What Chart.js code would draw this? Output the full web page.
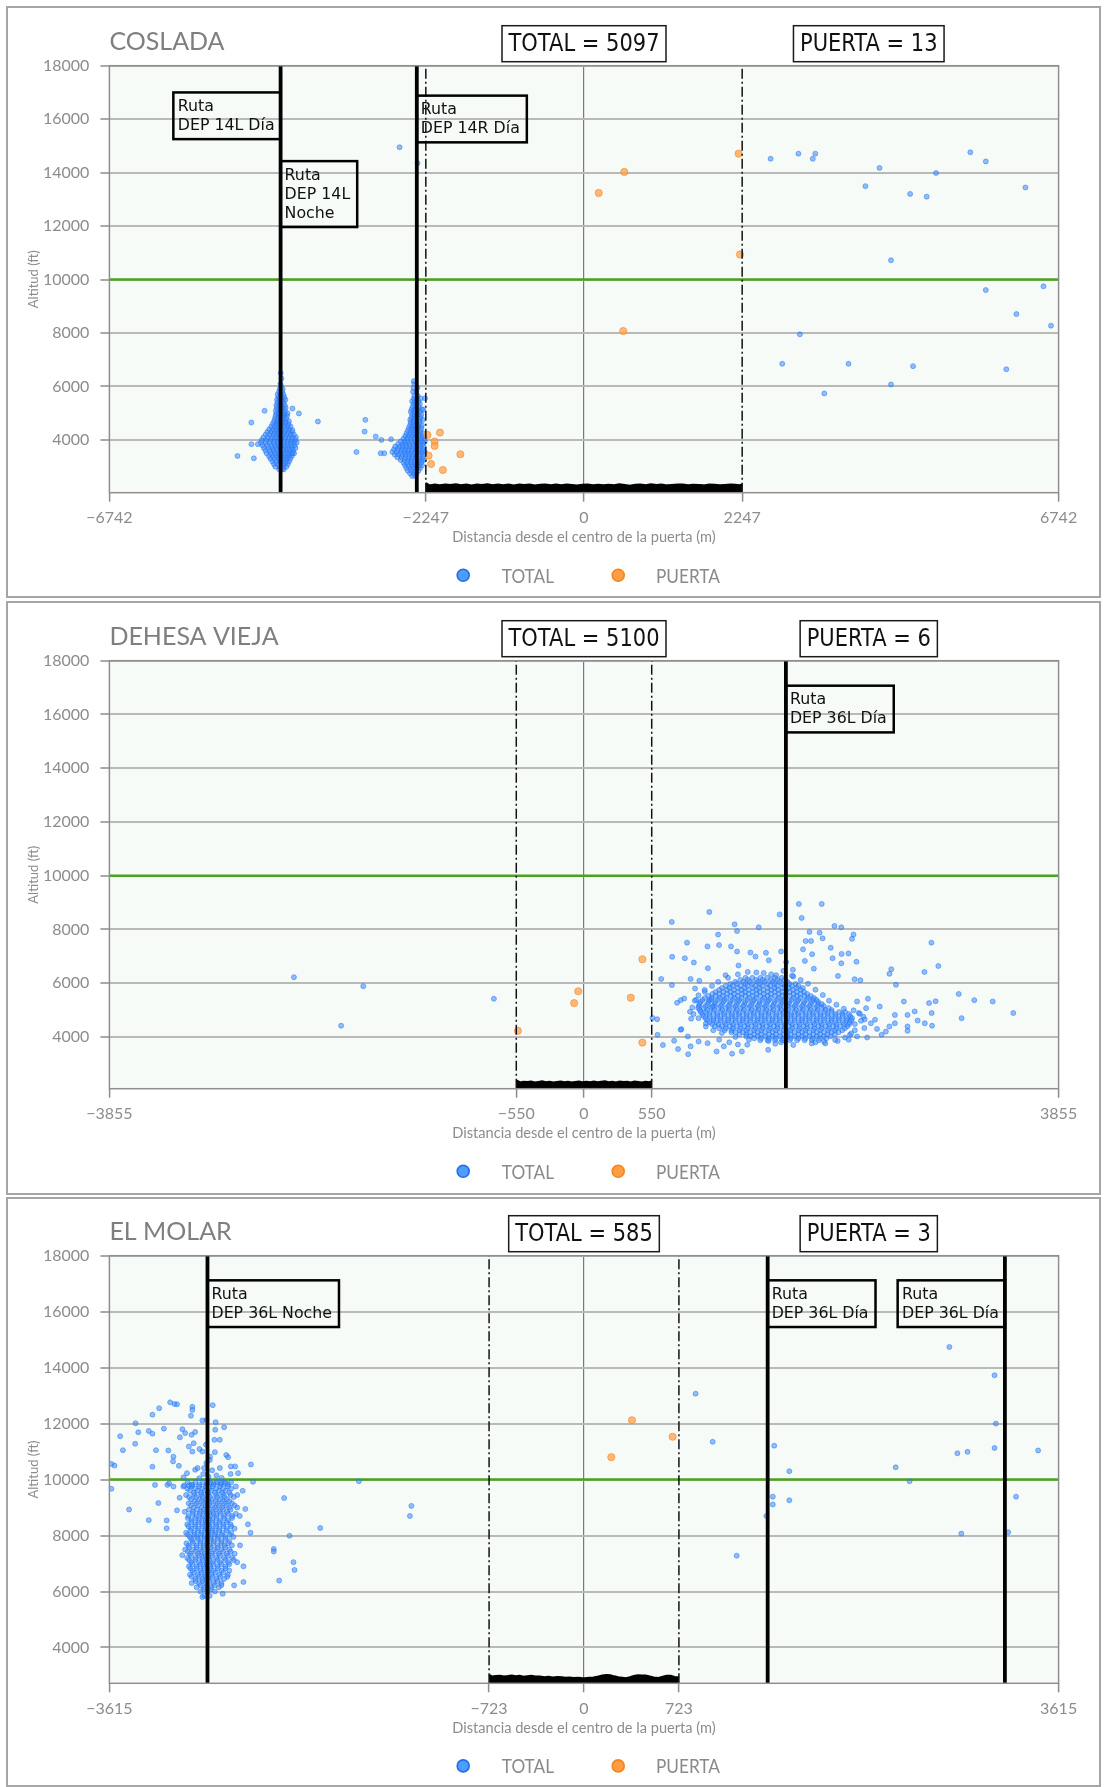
<!DOCTYPE html>
<html><head><meta charset="utf-8">
<script src="https://cdn.jsdelivr.net/npm/chart.js@4.4.1/dist/chart.umd.min.js"></script>
<style>
html,body{margin:0;padding:0;background:#fff;}
body{width:1105px;height:1787px;position:relative;overflow:hidden;}
.panel{position:absolute;left:6px;width:1095px;border:2px solid #a6a6a6;box-sizing:border-box;}
.cv{position:absolute;left:0;}
</style></head><body>
<div class="panel" style="top:6px;height:592px"></div>
<div class="panel" style="top:601px;height:594px"></div>
<div class="panel" style="top:1197px;height:590px"></div>
<canvas id="c1" class="cv" style="top:0px" width="1105" height="599"></canvas>
<canvas id="c2" class="cv" style="top:599px" width="1105" height="596"></canvas>
<canvas id="c3" class="cv" style="top:1195px" width="1105" height="592"></canvas>
<script>
// ---------------- shared ----------------
const yTicks = [4000, 6000, 8000, 10000, 12000, 14000, 16000, 18000];
const yMax = 18000;
const altitudeLimit = 10000;
const legendLabels = ['TOTAL', 'PUERTA'];
const xAxisTitle = 'Distancia desde el centro de la puerta (m)';
const yAxisTitle = 'Altitud (ft)';

// ---------------- COSLADA ----------------
const cosladaTitle = 'COSLADA';
const cosladaTotalCount = 5097;
const cosladaPuertaCount = 13;
const cosladaXTicks = [-6742, -2247, 0, 2247, 6742];
const cosladaYMin = 2025;
const cosladaGate = [-2247, 2247];
const cosladaRoutes = [-4310, -2375];
const cosladaRouteLabels = [
  {x: -4310, top: 17000, side: 'left', lines: ['Ruta', 'DEP 14L Día']},
  {x: -4310, top: 14430, side: 'right', lines: ['Ruta', 'DEP 14L', 'Noche']},
  {x: -2375, top: 16880, side: 'right', lines: ['Ruta', 'DEP 14R Día']}
];
// rows: [altitude, distances...]
const cosladaTotalRows = [
  [2900, -4330, -4290, -4265],
  [3000, -4385, -4325, -4272, -4228],
  [3100, -4405, -4352, -4298, -4251, -4207],
  [3200, -4428, -4371, -4318, -4279, -4236, -4188],
  [3300, -4455, -4398, -4342, -4301, -4258, -4215, -4172],
  [3400, -4475, -4418, -4368, -4322, -4276, -4233, -4189, -4150],
  [3500, -4508, -4445, -4392, -4338, -4297, -4248, -4203, -4158, -4118],
  [3600, -4525, -4462, -4408, -4361, -4312, -4268, -4221, -4177, -4131],
  [3700, -4548, -4483, -4425, -4372, -4318, -4279, -4232, -4188, -4142, -4098],
  [3800, -4566, -4502, -4441, -4388, -4342, -4297, -4251, -4203, -4158, -4112],
  [3900, -4590, -4524, -4462, -4405, -4348, -4306, -4262, -4211, -4168, -4121, -4082],
  [4000, -4578, -4512, -4451, -4398, -4352, -4302, -4253, -4198, -4151, -4102],
  [4100, -4553, -4492, -4433, -4381, -4328, -4288, -4242, -4191, -4139, -4093],
  [4200, -4522, -4463, -4408, -4359, -4318, -4271, -4222, -4168, -4121],
  [4300, -4498, -4442, -4391, -4343, -4298, -4252, -4201, -4152],
  [4400, -4472, -4418, -4372, -4328, -4282, -4231, -4183],
  [4500, -4441, -4393, -4348, -4302, -4258, -4212, -4168],
  [4600, -4422, -4368, -4331, -4288, -4242, -4198],
  [4700, -4402, -4358, -4318, -4281, -4238, -4192],
  [4800, -4391, -4348, -4308, -4268, -4231],
  [4900, -4382, -4338, -4302, -4262, -4219],
  [5000, -4372, -4331, -4288, -4248, -4212],
  [5100, -4378, -4332, -4291, -4252],
  [5200, -4362, -4318, -4282, -4238],
  [5300, -4371, -4328, -4292, -4251],
  [5400, -4352, -4311, -4268],
  [5500, -4361, -4322, -4281, -4242],
  [5600, -4341, -4302, -4258],
  [5700, -4352, -4309, -4271],
  [5800, -4331, -4288],
  [5900, -4322, -4281],
  [6000, -4302], [6100, -4312], [6300, -4298], [6500, -4308],
  [2650, -2442, -2398],
  [2750, -2472, -2418, -2379],
  [2850, -2503, -2451, -2402, -2352],
  [2950, -2524, -2468, -2421, -2372, -2328],
  [3050, -2542, -2488, -2441, -2393, -2342, -2301],
  [3150, -2563, -2512, -2459, -2408, -2361, -2312],
  [3250, -2604, -2548, -2497, -2452, -2401, -2349, -2302, -2271],
  [3350, -2652, -2592, -2538, -2489, -2442, -2391, -2338, -2291],
  [3450, -2688, -2638, -2583, -2531, -2478, -2432, -2381, -2329, -2282],
  [3550, -2722, -2662, -2603, -2548, -2502, -2449, -2398, -2352, -2301, -2262],
  [3650, -2698, -2641, -2588, -2539, -2491, -2442, -2388, -2341, -2292],
  [3750, -2681, -2622, -2571, -2518, -2468, -2421, -2372, -2322, -2279],
  [3850, -2642, -2579, -2532, -2481, -2428, -2382, -2331, -2288],
  [3950, -2601, -2548, -2502, -2451, -2398, -2352, -2302, -2262],
  [4050, -2562, -2511, -2458, -2412, -2361, -2311, -2268],
  [4150, -2538, -2491, -2441, -2388, -2342, -2292],
  [4250, -2521, -2468, -2422, -2379, -2331, -2288],
  [4350, -2502, -2452, -2408, -2368, -2322],
  [4450, -2488, -2441, -2401, -2358, -2311],
  [4550, -2471, -2428, -2388, -2349, -2302],
  [4650, -2462, -2421, -2378, -2338],
  [4750, -2468, -2422, -2381, -2332, -2291],
  [4850, -2451, -2408, -2368, -2322],
  [4950, -2438, -2402, -2358, -2311],
  [5050, -2461, -2412, -2371, -2328],
  [5150, -2448, -2401, -2362, -2302],
  [5250, -2432, -2388, -2348],
  [5350, -2421, -2379, -2332],
  [5450, -2441, -2398, -2352],
  [5550, -2418, -2372, -2321],
  [5650, -2408, -2362],
  [5800, -2428, -2381],
  [5950, -2422, -2368],
  [6100, -2412], [6200, -2418]
];
const cosladaTotalSparse = [
  [-4923, 3400], [-4690, 3310], [-4725, 4650], [-4725, 3840], [-4633, 3840], [-4537, 5090],
  [-4141, 5175], [-4050, 4990], [-3780, 4690], [-4141, 4360], [-4141, 3500],
  [-3233, 3550], [-3117, 4310], [-3106, 4750], [-2959, 4125], [-2878, 4000], [-2888, 3500],
  [-2837, 3500], [-2740, 4025], [-2259, 5560], [-2284, 5125],
  [-2620, 14950], [-2365, 14350],
  [2651, 14519], [3046, 14709], [3250, 14519], [3286, 14709], [4198, 14177], [3998, 13494],
  [4633, 13202], [4868, 13101], [5001, 13987], [5488, 14760], [5708, 14418], [6271, 13443],
  [4361, 10721], [5708, 9607], [6527, 9746], [6143, 8707], [6634, 8273], [3066, 7950],
  [2816, 6847], [3758, 6847], [4674, 6760], [3414, 5740], [4361, 6074], [5999, 6645]
];
const cosladaPuerta = [
  [-2223, 4188], [-2046, 4275], [-2122, 3938], [-2122, 3775], [-2208, 3413], [-2172, 3100],
  [-2005, 2875], [-1756, 3463], [2196, 14709], [573, 14025], [209, 13240], [2216, 10937], [557, 8075]
];
const cosladaGateProfile = [
  [-2247, 2380], [-2200, 2290], [-2120, 2318], [-2050, 2296], [-1970, 2322], [-1900, 2301],
  [-1820, 2330], [-1750, 2292], [-1670, 2318], [-1600, 2288], [-1520, 2320], [-1450, 2302],
  [-1370, 2328], [-1300, 2296], [-1220, 2322], [-1150, 2298], [-1070, 2326], [-1000, 2290],
  [-920, 2318], [-850, 2304], [-770, 2324], [-700, 2282], [-620, 2316], [-550, 2322],
  [-470, 2296], [-400, 2318], [-320, 2292], [-250, 2320], [-170, 2304], [-100, 2286],
  [-20, 2316], [50, 2326], [130, 2298], [200, 2316], [280, 2292], [350, 2312],
  [430, 2296], [500, 2328], [580, 2300], [650, 2276], [730, 2312], [800, 2320],
  [880, 2296], [950, 2330], [1030, 2302], [1100, 2318], [1180, 2290], [1250, 2306],
  [1330, 2326], [1400, 2318], [1480, 2296], [1550, 2314], [1630, 2300], [1700, 2290],
  [1780, 2322], [1850, 2316], [1930, 2294], [2000, 2306], [2080, 2322], [2150, 2312],
  [2210, 2296], [2247, 2320]
];

// ---------------- DEHESA VIEJA ----------------
const dehesaTitle = 'DEHESA VIEJA';
const dehesaTotalCount = 5100;
const dehesaPuertaCount = 6;
const dehesaXTicks = [-3855, -550, 0, 550, 3855];
const dehesaYMin = 2075;
const dehesaGate = [-550, 550];
const dehesaRoutes = [1640];
const dehesaRouteLabels = [
  {x: 1640, top: 17070, side: 'right', lines: ['Ruta', 'DEP 36L Día']}
];
const dehesaTotalRows = [
  [6200, 1312, 1368, 1433, 1488, 1552, 1607],
  [6125, 1270, 1331, 1398, 1452, 1519, 1573, 1628],
  [6050, 1228, 1293, 1347, 1412, 1468, 1533, 1588, 1652],
  [5975, 1188, 1241, 1312, 1366, 1429, 1489, 1548, 1611, 1668, 1718],
  [5900, 1152, 1208, 1273, 1328, 1391, 1447, 1512, 1568, 1631, 1688, 1742],
  [5825, 1121, 1182, 1248, 1303, 1371, 1422, 1491, 1548, 1609, 1662, 1728, 1778],
  [5750, 1098, 1163, 1218, 1282, 1338, 1403, 1458, 1522, 1577, 1643, 1698, 1762],
  [5675, 1068, 1131, 1192, 1251, 1309, 1372, 1428, 1492, 1551, 1609, 1671, 1729, 1788],
  [5600, 1042, 1098, 1162, 1219, 1283, 1338, 1402, 1461, 1518, 1583, 1638, 1702, 1758, 1812],
  [5525, 1009, 1071, 1128, 1192, 1249, 1311, 1371, 1431, 1489, 1552, 1609, 1671, 1729, 1791, 1842],
  [5450, 982, 1038, 1103, 1158, 1222, 1279, 1342, 1398, 1463, 1518, 1582, 1637, 1703, 1758, 1822, 1868],
  [5375, 962, 1021, 1088, 1142, 1209, 1262, 1328, 1382, 1449, 1502, 1569, 1622, 1688, 1742, 1808, 1862, 1888],
  [5300, 948, 1012, 1068, 1132, 1188, 1252, 1308, 1372, 1428, 1492, 1548, 1612, 1668, 1732, 1788, 1852, 1902],
  [5225, 938, 1001, 1062, 1121, 1182, 1241, 1302, 1361, 1422, 1481, 1542, 1601, 1662, 1721, 1782, 1841, 1902, 1931],
  [5150, 932, 988, 1052, 1108, 1172, 1228, 1292, 1348, 1412, 1468, 1532, 1588, 1652, 1708, 1772, 1828, 1892, 1948],
  [5075, 928, 972, 1031, 1092, 1151, 1212, 1271, 1332, 1391, 1452, 1511, 1572, 1631, 1692, 1751, 1812, 1871, 1931, 1988],
  [5000, 941, 1002, 1058, 1122, 1178, 1242, 1298, 1362, 1418, 1482, 1538, 1602, 1658, 1722, 1778, 1842, 1898, 1962, 2012],
  [4925, 948, 991, 1051, 1112, 1171, 1232, 1291, 1352, 1411, 1472, 1531, 1592, 1651, 1712, 1771, 1832, 1891, 1952, 2011, 2072, 2121],
  [4850, 962, 1018, 1082, 1138, 1202, 1258, 1322, 1378, 1442, 1498, 1562, 1618, 1682, 1738, 1802, 1858, 1922, 1978, 2042, 2098, 2152],
  [4775, 972, 1022, 1081, 1142, 1201, 1262, 1321, 1382, 1441, 1502, 1561, 1622, 1681, 1742, 1801, 1862, 1921, 1982, 2041, 2102, 2162],
  [4700, 988, 1052, 1108, 1172, 1228, 1292, 1348, 1412, 1468, 1532, 1588, 1652, 1708, 1772, 1828, 1892, 1948, 2012, 2068, 2132, 2178],
  [4625, 1001, 1051, 1112, 1171, 1232, 1291, 1352, 1411, 1472, 1531, 1592, 1651, 1712, 1771, 1832, 1891, 1952, 2011, 2072, 2131, 2171],
  [4550, 1022, 1078, 1142, 1198, 1262, 1318, 1382, 1438, 1502, 1558, 1622, 1678, 1742, 1798, 1862, 1918, 1982, 2038, 2102, 2158],
  [4475, 1041, 1091, 1152, 1211, 1272, 1331, 1392, 1451, 1512, 1571, 1632, 1691, 1752, 1811, 1872, 1931, 1992, 2051, 2112, 2152],
  [4400, 1062, 1118, 1182, 1238, 1302, 1358, 1422, 1478, 1542, 1598, 1662, 1718, 1782, 1838, 1902, 1958, 2022, 2078, 2138],
  [4325, 1098, 1152, 1211, 1272, 1331, 1392, 1451, 1512, 1571, 1632, 1691, 1752, 1811, 1872, 1931, 1992, 2051, 2118],
  [4250, 1142, 1198, 1262, 1318, 1382, 1438, 1502, 1558, 1622, 1678, 1742, 1798, 1862, 1918, 1982, 2038, 2098],
  [4175, 1198, 1231, 1292, 1351, 1412, 1471, 1532, 1591, 1652, 1711, 1772, 1831, 1892, 1951, 2012, 2068],
  [4100, 1262, 1318, 1382, 1438, 1502, 1558, 1622, 1678, 1742, 1798, 1862, 1918, 1978, 2038],
  [4025, 1318, 1352, 1411, 1472, 1531, 1592, 1651, 1712, 1771, 1832, 1891, 1948, 2002],
  [3950, 1382, 1438, 1502, 1558, 1622, 1678, 1742, 1798, 1858, 1918, 1968],
  [3880, 1432, 1491, 1552, 1611, 1672, 1731, 1792, 1851, 1908]
];
const dehesaTotalSparse = [
  [-2356, 6223], [-1793, 5890], [-1973, 4420], [-732, 5420],
  [1018, 8650], [713, 8280], [1223, 8190], [1243, 7940], [1419, 8080], [1589, 8560], [1768, 8430],
  [1745, 8950], [1931, 8950], [2034, 8130], [2090, 8080], [2189, 7810], [2177, 7650], [1832, 7910],
  [1914, 7880], [1938, 7670], [1800, 7570], [1844, 7570], [837, 7510], [1089, 7810], [1003, 7370],
  [1097, 7420], [1194, 7370], [1243, 7180], [716, 6980], [819, 6930], [892, 6770], [1006, 6560],
  [1255, 6660], [1352, 7140], [1393, 6990], [1478, 7130], [1501, 6850], [1601, 7180], [1642, 6790],
  [1697, 6500], [1779, 7260], [1853, 7080], [1794, 6830], [1867, 6540], [2004, 7320], [2019, 6930],
  [2092, 7090], [2090, 6740], [2213, 6800], [2148, 7110], [2063, 6270], [2198, 6150], [2245, 6110],
  [2822, 7510], [2878, 6640], [2496, 6520], [2481, 6350], [2534, 5940], [2765, 6420], [3044, 5600],
  [3170, 5370], [3320, 5320], [3487, 4890], [3067, 4700], [2856, 5330], [2803, 5260], [2824, 4890],
  [2827, 4420], [2710, 4610], [2768, 4510], [2686, 4950], [2628, 4820], [2598, 5320], [2628, 4390],
  [2628, 4230], [2525, 4510], [2525, 4820], [2481, 4390], [2452, 4200], [2417, 4080], [2402, 5130],
  [2364, 4640], [2306, 5420], [2291, 5070], [2218, 5320], [2233, 4890], [2330, 4510], [2277, 4330],
  [2218, 4020], [2160, 4080], [627, 6160], [714, 5930], [556, 4710], [594, 4660], [597, 4080],
  [641, 3700], [764, 3550], [846, 3360], [866, 3650], [931, 3830], [732, 3860], [791, 4290],
  [785, 5370], [814, 5430], [861, 4940], [870, 4680], [911, 5380], [902, 5800], [937, 6090],
  [981, 5680], [866, 6160], [843, 4020], [785, 4270], [990, 4390], [1004, 3770], [1077, 3460],
  [1136, 3650], [1203, 3380], [1282, 3460], [1326, 3710], [1496, 3520], [1554, 3750], [1098, 3900],
  [756, 5270], [1034, 5380], [1042, 5130], [2300, 3980], [2380, 4300], [2150, 3900], [1700, 3700],
  [1850, 3760], [1950, 3820], [2060, 3850], [1180, 3800], [1250, 3720], [1400, 6400],
  [1520, 6330], [1700, 6250], [1150, 6300], [2250, 4600], [2200, 4480], [2270, 4750],
  [1250, 6330], [1330, 6420], [1460, 6380], [1560, 6300], [1620, 6460], [1690, 6280], [1760, 6120],
  [1820, 5980], [1880, 5760], [1940, 5560], [1990, 5350], [2050, 5200], [2110, 5050], [2190, 4990],
  [2240, 4860], [2280, 4650], [2200, 4250], [2170, 4130], [2120, 3980], [2040, 3890], [1960, 3760],
  [1880, 3800], [1600, 3800], [1500, 3850], [1340, 3900], [1230, 4000], [1120, 4150], [1050, 4250],
  [990, 4500], [930, 4700], [890, 4850], [880, 5100], [900, 5350], [930, 5550], [980, 5750],
  [1040, 5900], [1090, 6050], [1170, 6200]
];
const dehesaPuerta = [
  [-537, 4230], [474, 6890], [-47, 5700], [-80, 5260], [380, 5460], [474, 3790]
];
const dehesaGateProfile = [
  [-550, 2380], [-520, 2300], [-490, 2326], [-460, 2312], [-430, 2336], [-400, 2298],
  [-370, 2318], [-340, 2340], [-310, 2306], [-280, 2322], [-250, 2298], [-220, 2316],
  [-190, 2336], [-160, 2304], [-130, 2322], [-100, 2296], [-70, 2318], [-40, 2334],
  [-10, 2302], [20, 2326], [50, 2310], [80, 2336], [110, 2308], [140, 2326],
  [170, 2342], [200, 2304], [230, 2322], [260, 2300], [290, 2334], [320, 2312],
  [350, 2326], [380, 2300], [410, 2330], [440, 2318], [470, 2296], [500, 2324],
  [530, 2306], [550, 2340]
];

// ---------------- EL MOLAR ----------------
const molarTitle = 'EL MOLAR';
const molarTotalCount = 585;
const molarPuertaCount = 3;
const molarXTicks = [-3615, -723, 0, 723, 3615];
const molarYMin = 2720;
const molarGate = [-723, 723];
const molarRoutes = [-2868, 1399, 3206];
const molarRouteLabels = [
  {x: -2868, top: 17120, side: 'right', lines: ['Ruta', 'DEP 36L Noche']},
  {x: 1399, top: 17120, side: 'right', lines: ['Ruta', 'DEP 36L Día']},
  {x: 3206, top: 17120, side: 'left', lines: ['Ruta', 'DEP 36L Día']}
];
const molarTotalRows = [
  [9900, -3020, -2960, -2902, -2851, -2798, -2741, -2688],
  [9825, -2990, -2931, -2876, -2822, -2768, -2714],
  [9750, -3052, -2988, -2931, -2879, -2828, -2772, -2712, -2652],
  [9675, -3021, -2962, -2908, -2855, -2801, -2748, -2688],
  [9600, -3001, -2942, -2889, -2838, -2781, -2729],
  [9525, -2972, -2918, -2866, -2812, -2758, -2702],
  [9450, -3031, -2968, -2912, -2861, -2802, -2748, -2691, -2641],
  [9375, -3008, -2952, -2902, -2848, -2791, -2738, -2668],
  [9300, -2992, -2931, -2878, -2829, -2772, -2719],
  [9225, -2968, -2912, -2861, -2808, -2752, -2701],
  [9150, -3011, -2952, -2898, -2851, -2792, -2738, -2682],
  [9075, -2992, -2938, -2882, -2831, -2778, -2722, -2661],
  [9000, -2972, -2912, -2868, -2811, -2758, -2702, -2641],
  [8925, -3009, -2949, -2898, -2852, -2801, -2748, -2692],
  [8850, -3041, -2978, -2922, -2879, -2831, -2778, -2721],
  [8775, -2981, -2928, -2872, -2822, -2768, -2711, -2652],
  [8700, -3012, -2951, -2902, -2848, -2801, -2742, -2681, -2622],
  [8625, -3018, -2962, -2908, -2856, -2801, -2742, -2681],
  [8550, -2988, -2931, -2882, -2829, -2771, -2712],
  [8475, -2992, -2938, -2882, -2832, -2778, -2721],
  [8400, -3022, -2961, -2908, -2861, -2802, -2748, -2692],
  [8325, -3012, -2962, -2908, -2852, -2802, -2748, -2688],
  [8250, -2991, -2938, -2882, -2831, -2778, -2721, -2662],
  [8175, -2998, -2941, -2888, -2832, -2781, -2721],
  [8100, -3031, -2968, -2912, -2858, -2809, -2752, -2688],
  [8025, -3018, -2969, -2918, -2862, -2812, -2759, -2698],
  [7950, -3002, -2948, -2891, -2842, -2788, -2732, -2671],
  [7875, -2992, -2941, -2892, -2841, -2789, -2731],
  [7800, -2981, -2922, -2868, -2819, -2762, -2702],
  [7725, -3028, -2978, -2921, -2872, -2822, -2762, -2711],
  [7650, -3012, -2951, -2898, -2851, -2791, -2738, -2682],
  [7575, -3008, -2951, -2898, -2842, -2789, -2731],
  [7500, -3038, -2979, -2922, -2869, -2818, -2762, -2701],
  [7425, -3018, -2961, -2911, -2858, -2802, -2748, -2691],
  [7350, -3001, -2941, -2891, -2838, -2781, -2722, -2661],
  [7275, -2992, -2931, -2882, -2831, -2772, -2712],
  [7200, -3022, -2958, -2908, -2861, -2802, -2741, -2679],
  [7125, -3008, -2961, -2902, -2851, -2792, -2731, -2668],
  [7050, -2991, -2932, -2878, -2829, -2771, -2709, -2642],
  [6975, -2982, -2922, -2872, -2822, -2762, -2702],
  [6900, -3009, -2951, -2899, -2848, -2792, -2731],
  [6825, -2998, -2948, -2892, -2842, -2788, -2731],
  [6750, -2982, -2921, -2868, -2821, -2761, -2702],
  [6675, -2969, -2912, -2861, -2808, -2748],
  [6600, -3001, -2942, -2889, -2838, -2779, -2712],
  [6525, -2988, -2932, -2882, -2828, -2771, -2718],
  [6450, -2961, -2908, -2861, -2801, -2742],
  [6375, -2958, -2902, -2851, -2792],
  [6300, -2988, -2931, -2879, -2822, -2762],
  [6225, -2921, -2868, -2812, -2762],
  [6150, -2951, -2892, -2841, -2781],
  [6075, -2898, -2842],
  [6000, -2921, -2868, -2812],
  [5850, -2892, -2851]
];
const molarTotalSparse = [
  [-3152, 12760], [-3119, 12700], [-3100, 12690], [-2983, 12600], [-2983, 12490], [-3236, 12550],
  [-3287, 12320], [-3416, 12010], [-2828, 12660], [-2994, 12280], [-2907, 12110], [-2876, 12130],
  [-2806, 12050], [-2741, 11870], [-2809, 11780], [-3200, 11820], [-3315, 11740], [-3395, 11690],
  [-3287, 11640], [-3533, 11550], [-3419, 11280], [-3512, 11050], [-3260, 11050], [-3166, 11040],
  [-3078, 11510], [-3059, 11800], [-3038, 11660], [-2989, 11600], [-2962, 11700], [-2973, 11300],
  [-3010, 11180], [-2983, 11000], [-2929, 11090], [-2907, 11000], [-2815, 11420], [-2774, 11420],
  [-2812, 10980], [-2848, 10820], [-2725, 10880], [-2711, 10800], [-3127, 10820], [-3130, 10650],
  [-3086, 10490], [-3287, 10460], [-3024, 10230], [-2962, 10350], [-2943, 10410], [-2894, 10410],
  [-2876, 10590], [-2832, 10330], [-2774, 10410], [-2690, 10470], [-2657, 10470], [-2635, 10230],
  [-2537, 10540], [-2521, 9920], [-2692, 10200], [-3160, 9870], [-3173, 9810], [-3268, 9810],
  [-3045, 9790], [-3010, 9790], [-2983, 9810], [-3127, 9750], [-2840, 9870], [-2794, 9900],
  [-2761, 9870], [-2731, 9870], [-3576, 10500], [-3600, 10560], [-2860, 10100], [-2900, 10200],
  [-2930, 10050], [-2800, 10150], [-2760, 10060], [-3050, 10080], [-2850, 10700], [-2880, 11250],
  [-2284, 9340], [-2243, 7990], [-2363, 7520], [-2363, 7430], [-2213, 7050], [-2205, 6770],
  [-2322, 6390], [-2009, 8270], [-1326, 8700], [-1315, 9060], [-1715, 9940], [-3465, 8930],
  [-3315, 8550], [-3600, 9670], [-3242, 9160], [-3179, 8540], [-3179, 8260], [-2594, 6900],
  [-2594, 6340], [-2665, 6220], [-2752, 5920], [-2907, 5800], [-3080, 9350], [-3100, 8900],
  [-2600, 9600], [-2580, 8950], [-2560, 8400], [-2540, 8100], [-2620, 7650], [-3060, 7300],
  [850, 13070], [980, 11350], [1449, 11210], [1564, 10300], [2374, 10440], [2480, 9940],
  [2783, 14740], [3127, 13730], [3137, 12000], [2844, 10940], [2921, 10990], [3127, 11130],
  [3459, 11040], [1438, 9390], [1438, 9110], [1564, 9260], [1389, 8700], [1163, 7280],
  [2874, 8070], [3231, 8120], [3291, 9390]
];
const molarPuerta = [[365, 12120], [675, 11530], [208, 10800]];
const molarGateProfile = [
  [-723, 3010], [-700, 2950], [-670, 2968], [-640, 2982], [-610, 2958], [-580, 2972],
  [-550, 2990], [-520, 2962], [-490, 2976], [-460, 2948], [-430, 2966], [-400, 2980],
  [-370, 2956], [-338, 2950], [-300, 2928], [-270, 2946], [-240, 2918], [-200, 2936],
  [-170, 2924], [-140, 2906], [-110, 2922], [-80, 2904], [-50, 2912], [-20, 2898],
  [5, 2890], [40, 2906], [73, 2920], [110, 2956], [140, 2990], [170, 3010],
  [200, 3002], [230, 2960], [260, 2926], [290, 2910], [320, 2896], [350, 2930],
  [380, 2975], [410, 2998], [440, 2986], [470, 2992], [500, 2958], [530, 2920],
  [568, 2902], [600, 2950], [630, 2985], [660, 2978], [690, 2940], [723, 2930]
];

// ---------------- helpers ----------------
const fmt = v => (v < 0 ? '\u2212' + Math.abs(v) : String(v));
const rowsToPoints = rows => {
  const out = [];
  rows.forEach(r => { for (let i = 1; i < r.length; i++) out.push({x: r[i], y: r[0]}); });
  return out;
};
const pairsToPoints = p => p.map(([x, y]) => ({x, y}));

const TICK_COLOR = '#8c8c8c';
const BLUE_FILL = 'rgba(58,138,255,0.55)';
const BLUE_EDGE = 'rgba(30,112,240,0.6)';
const ORANGE_FILL = 'rgba(255,158,70,0.72)';
const ORANGE_EDGE = 'rgba(248,138,40,0.65)';

function decorPlugin(cfg) {
  return {
    id: 'decor',
    beforeDraw(chart) {
      const {ctx, chartArea: a} = chart;
      ctx.save();
      ctx.fillStyle = 'rgb(246,251,248)';
      ctx.fillRect(a.left, a.top, a.right - a.left, a.bottom - a.top);
      ctx.restore();
    },
    afterDraw(chart) {
      const {ctx, chartArea: a, scales} = chart;
      const w = a.right - a.left;
      const cx = a.left + w / 2;
      ctx.save();
      // frame
      ctx.strokeStyle = '#8f8f8f';
      ctx.lineWidth = 1.5;
      ctx.strokeRect(a.left, a.top, w, a.bottom - a.top);
      // title
      ctx.fillStyle = '#7f7f7f';
      ctx.font = '25px Lato';
      ctx.textAlign = 'left';
      ctx.textBaseline = 'alphabetic';
      ctx.fillText(cfg.title, a.left, a.top - 16);
      // count boxes
      const countBox = (text, centerX) => {
        ctx.font = '24px "DejaVu Sans"';
        const sx = 0.875;
        const tw = ctx.measureText(text).width * sx;
        const bw = tw + 13;
        ctx.strokeStyle = '#1a1a1a';
        ctx.lineWidth = 1.5;
        ctx.strokeRect(centerX - bw / 2, a.top - 40, bw, 36);
        ctx.save();
        ctx.translate(centerX, a.top - 15);
        ctx.scale(sx, 1);
        ctx.fillStyle = '#111';
        ctx.textAlign = 'center';
        ctx.fillText(text, 0, 0);
        ctx.restore();
      };
      countBox('TOTAL = ' + cfg.total, a.left + 0.5 * w);
      countBox('PUERTA = ' + cfg.puerta, a.left + 0.8 * w);
      // route labels
      ctx.font = '15.8px "DejaVu Sans"';
      cfg.labels.forEach(l => {
        const xp = scales.x.getPixelForValue(l.x);
        const yt = scales.y.getPixelForValue(l.top);
        const maxW = Math.max(...l.lines.map(s => ctx.measureText(s).width));
        let textX, boxL, boxR;
        if (l.side === 'right') { boxL = xp; textX = xp + 4; boxR = textX + maxW + 7; }
        else { boxR = xp; textX = xp - 6 - maxW; boxL = textX - 4.4; }
        const lastBase = yt + 18.5 + 19.2 * (l.lines.length - 1);
        ctx.strokeStyle = '#000';
        ctx.lineWidth = 2.5;
        ctx.strokeRect(boxL, yt, boxR - boxL, lastBase + 9 - yt);
        ctx.fillStyle = '#111';
        ctx.textAlign = 'left';
        l.lines.forEach((s, i) => ctx.fillText(s, textX, yt + 18.5 + 19.2 * i));
      });
      // axis titles
      ctx.fillStyle = '#8c8c8c';
      ctx.font = '14.6px Lato';
      ctx.textAlign = 'center';
      ctx.textBaseline = 'middle';
      ctx.fillText(xAxisTitle, cx, a.bottom + 45);
      ctx.save();
      ctx.translate(34, (a.top + a.bottom) / 2);
      ctx.rotate(-Math.PI / 2);
      ctx.font = '13px Lato';
      ctx.fillText(yAxisTitle, 0, 0);
      ctx.restore();
      // legend
      const ly = a.bottom + 82.6;
      const marker = (x, fill, edge) => {
        ctx.beginPath();
        ctx.arc(x, ly, 6, 0, Math.PI * 2);
        ctx.fillStyle = fill; ctx.fill();
        ctx.strokeStyle = edge; ctx.lineWidth = 1.6; ctx.stroke();
      };
      marker(cx - 120.8, '#4f9cff', '#1f6fe8');
      marker(cx + 34.2, '#ff9d45', '#f2861c');
      ctx.fillStyle = '#8a8a8a';
      ctx.font = '20px Lato';
      ctx.textAlign = 'left';
      const legendText = (s, x) => {
        ctx.save();
        ctx.translate(x, ly + 1);
        ctx.scale(0.86, 1);
        ctx.fillText(s, 0, 0);
        ctx.restore();
      };
      legendText(legendLabels[0], cx - 82.2);
      legendText(legendLabels[1], cx + 72);
      ctx.restore();
    }
  };
}

function makeChart(id, cfg) {
  const xMax = cfg.xTicks[cfg.xTicks.length - 1];
  const datasets = [];
  cfg.routes.forEach(r => datasets.push({
    type: 'line', data: [{x: r, y: cfg.yMin}, {x: r, y: yMax}],
    borderColor: '#000', borderWidth: 3.8, pointRadius: 0, order: 0
  }));
  cfg.gate.forEach(g => datasets.push({
    type: 'line', data: [{x: g, y: cfg.yMin}, {x: g, y: yMax}],
    borderColor: '#111', borderWidth: 1.5, borderDash: [10, 3, 2, 3], pointRadius: 0, order: 1
  }));
  datasets.push({
    type: 'line', data: pairsToPoints(cfg.profile), borderColor: '#000', borderWidth: 2.5,
    backgroundColor: '#000', fill: 'start', pointRadius: 0, tension: 0, order: 2
  });
  datasets.push({
    type: 'scatter', data: pairsToPoints(cfg.puertaPts), backgroundColor: ORANGE_FILL,
    borderColor: ORANGE_EDGE, borderWidth: 1, pointRadius: 3.6, order: 3
  });
  datasets.push({
    type: 'scatter', data: rowsToPoints(cfg.totalRows).concat(pairsToPoints(cfg.totalSparse)),
    backgroundColor: BLUE_FILL, borderColor: BLUE_EDGE, borderWidth: 0.8, pointRadius: 2.5, order: 4
  });
  datasets.push({
    type: 'line', data: [{x: -xMax, y: altitudeLimit}, {x: xMax, y: altitudeLimit}],
    borderColor: '#4ca21f', borderWidth: 2.5, pointRadius: 0, order: 6
  });
  const canvas = document.getElementById(id);
  return new Chart(canvas, {
    type: 'scatter',
    data: {datasets},
    plugins: [decorPlugin(cfg)],
    options: {
      responsive: false, animation: false, devicePixelRatio: 1,
      layout: {padding: {left: 0, right: 46.4, top: cfg.top, bottom: 0}},
      plugins: {legend: {display: false}, tooltip: {enabled: false}, title: {display: false}},
      scales: {
        x: {
          type: 'linear', min: -xMax, max: xMax,
          afterBuildTicks: s => { s.ticks = cfg.xTicks.map(v => ({value: v})); },
          afterFit: s => { s.height = cfg.xAxisH; },
          border: {display: false},
          grid: {
            color: c => (c.tick && c.tick.value === 0 ? '#7a7a7a' : 'rgba(0,0,0,0)'),
            lineWidth: 1.2, tickLength: 9, tickColor: TICK_COLOR, tickWidth: 1.5
          },
          ticks: {autoSkip: false, maxRotation: 0, padding: 7, color: TICK_COLOR,
                  font: {family: 'Lato', size: 16}, callback: v => fmt(v)}
        },
        y: {
          type: 'linear', min: cfg.yMin, max: yMax,
          afterBuildTicks: s => { s.ticks = yTicks.map(v => ({value: v})); },
          afterFit: s => { s.width = 109.4; },
          border: {display: false},
          grid: {color: '#b9b9b9', lineWidth: 2, tickLength: 9, tickColor: TICK_COLOR, tickWidth: 1.5},
          ticks: {padding: 11, color: TICK_COLOR, font: {family: 'Lato', size: 16}, callback: v => String(v)}
        }
      }
    }
  });
}

makeChart('c1', {
  title: cosladaTitle, total: cosladaTotalCount, puerta: cosladaPuertaCount,
  xTicks: cosladaXTicks, yMin: cosladaYMin, gate: cosladaGate, routes: cosladaRoutes,
  labels: cosladaRouteLabels, totalRows: cosladaTotalRows, totalSparse: cosladaTotalSparse,
  puertaPts: cosladaPuerta, profile: cosladaGateProfile, top: 65.7, xAxisH: 106.3
});
makeChart('c2', {
  title: dehesaTitle, total: dehesaTotalCount, puerta: dehesaPuertaCount,
  xTicks: dehesaXTicks, yMin: dehesaYMin, gate: dehesaGate, routes: dehesaRoutes,
  labels: dehesaRouteLabels, totalRows: dehesaTotalRows, totalSparse: dehesaTotalSparse,
  puertaPts: dehesaPuerta, profile: dehesaGateProfile, top: 61.7, xAxisH: 106.3
});
makeChart('c3', {
  title: molarTitle, total: molarTotalCount, puerta: molarPuertaCount,
  xTicks: molarXTicks, yMin: molarYMin, gate: molarGate, routes: molarRoutes,
  labels: molarRouteLabels, totalRows: molarTotalRows, totalSparse: molarTotalSparse,
  puertaPts: molarPuerta, profile: molarGateProfile, top: 60.7, xAxisH: 103.7
});
</script>
</body></html>
